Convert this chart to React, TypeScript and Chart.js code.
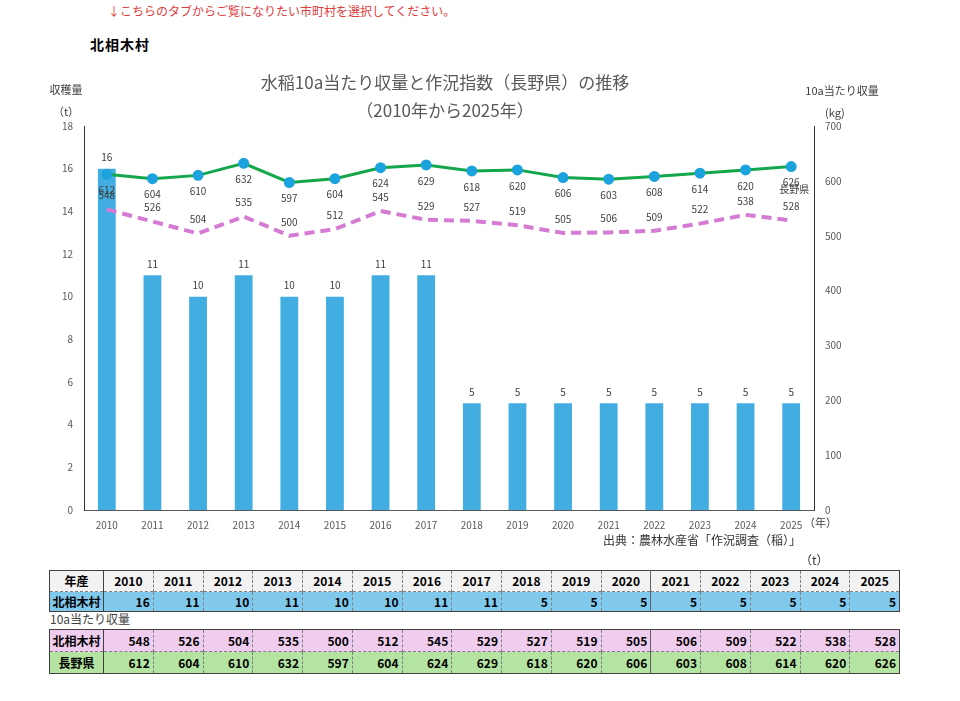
import React, { useEffect, useRef } from "react";
import { Chart, registerables } from "chart.js";

Chart.register(...registerables);

const years = ["2010","2011","2012","2013","2014","2015","2016","2017","2018","2019","2020","2021","2022","2023","2024","2025"];
const harvest = [16, 11, 10, 11, 10, 10, 11, 11, 5, 5, 5, 5, 5, 5, 5, 5];
const villageYield = [548, 526, 504, 535, 500, 512, 545, 529, 527, 519, 505, 506, 509, 522, 538, 528];
const naganoYield = [612, 604, 610, 632, 597, 604, 624, 629, 618, 620, 606, 603, 608, 614, 620, 626];
const villageName = "北相木村";
const prefName = "長野県";

const FONT = '"Noto Sans CJK JP", "Noto Sans", sans-serif';
const BAR = "#41ADE0";
const GREEN = "#14A64A";
const DOT = "#1CA3DE";
const PINK = "#D57BD3";

const labelPlugin = {
  id: "valueLabels",
  afterDatasetsDraw(chart: any) {
    const ctx = chart.ctx;
    ctx.save();
    ctx.font = `10px ${FONT}`;
    ctx.fillStyle = "#404040";
    ctx.textAlign = "center";
    ctx.textBaseline = "middle";
    chart.data.datasets.forEach((ds: any, i: number) => {
      const meta = chart.getDatasetMeta(i);
      meta.data.forEach((el: any, j: number) => {
        const v = ds.data[j];
        let dy = 0;
        if (ds.type === "bar") dy = -11;
        else if (ds.label === prefName) dy = 16;
        else dy = -14;
        ctx.fillText(String(v), el.x, el.y + dy);
        if (ds.label === prefName && j === ds.data.length - 1) {
          ctx.fillText(prefName, el.x + 3, el.y + 23);
        }
      });
    });
    ctx.restore();
  },
};

function ChartCanvas() {
  const ref = useRef<HTMLCanvasElement | null>(null);
  useEffect(() => {
    if (!ref.current) return;
    const chart = new Chart(ref.current, {
      data: {
        labels: years,
        datasets: [
          {
            type: "line",
            label: prefName,
            data: naganoYield,
            yAxisID: "y2",
            borderColor: GREEN,
            borderWidth: 3,
            pointRadius: 4,
            pointBackgroundColor: DOT,
            pointBorderColor: DOT,
            tension: 0,
            order: 1,
          },
          {
            type: "line",
            label: villageName,
            data: villageYield,
            yAxisID: "y2",
            borderColor: PINK,
            borderWidth: 4,
            borderDash: [10, 6],
            pointRadius: 0,
            tension: 0,
            order: 2,
          },
          {
            type: "bar",
            label: "収穫量",
            data: harvest,
            yAxisID: "y",
            backgroundColor: BAR,
            barPercentage: 0.39,
            categoryPercentage: 1,
            order: 3,
          },
        ] as any,
      },
      options: {
        responsive: false,
        animation: false,
        layout: { padding: { top: 126, left: 0, right: 0, bottom: 0 } },
        plugins: { legend: { display: false }, title: { display: false }, tooltip: { enabled: false } },
        scales: {
          x: {
            offset: true,
            grid: { display: false, drawTicks: false },
            border: { display: true, color: "#595959", width: 1 },
            ticks: { color: "#595959", font: { size: 10, family: FONT }, padding: 9, maxRotation: 0, autoSkip: false },
            afterFit: (s: any) => { s.height = 30; },
          },
          y: {
            position: "left",
            min: 0,
            max: 18,
            grid: { display: false, drawTicks: false },
            border: { display: true, color: "#333333", width: 1 },
            ticks: { stepSize: 2, color: "#595959", font: { size: 10, family: FONT }, padding: 11 },
            afterFit: (s: any) => { s.width = 84; },
          },
          y2: {
            position: "right",
            min: 0,
            max: 700,
            grid: { display: false, drawTicks: false },
            border: { display: true, color: "#333333", width: 1 },
            ticks: { stepSize: 100, color: "#595959", font: { size: 10, family: FONT }, padding: 11 },
            afterFit: (s: any) => { s.width = 146; },
          },
        },
      } as any,
      plugins: [labelPlugin],
    });
    return () => chart.destroy();
  }, []);
  return (
    <canvas
      ref={ref}
      width={960}
      height={540}
      style={{ position: "absolute", left: 0, top: 0, width: 960, height: 540 }}
    />
  );
}

const txt = (s: React.CSSProperties): React.CSSProperties => ({
  position: "absolute",
  fontFamily: FONT,
  whiteSpace: "nowrap",
  lineHeight: 1,
  ...s,
});

const colW = 49.75;
const firstW = 54;

function DataTable({ top, rows }: { top: number; rows: { name: string; values: (string | number)[]; bg: string; header?: boolean; h: number }[] }) {
  return (
    <table
      style={{
        position: "absolute",
        left: 49,
        top,
        width: firstW + colW * 16,
        borderCollapse: "collapse",
        tableLayout: "fixed",
        border: "1px solid #404040",
        fontFamily: FONT,
        fontSize: 12,
        fontWeight: 700,
        color: "#000",
      }}
    >
      <colgroup>
        <col style={{ width: firstW }} />
        {years.map((y) => (
          <col key={y} style={{ width: colW }} />
        ))}
      </colgroup>
      <tbody>
        {rows.map((r, ri) => (
          <tr key={ri} style={{ height: r.h, background: r.bg }}>
            <td
              style={{
                padding: 0,
                textAlign: "center",
                borderRight: "1px solid #404040",
                borderTop: ri > 0 ? "1px dashed #808080" : undefined,
                lineHeight: 1,
              }}
            >
              {r.name}
            </td>
            {r.values.map((v, i) => (
              <td
                key={i}
                style={{
                  padding: r.header ? 0 : "0 3px 0 0",
                  textAlign: r.header ? "center" : "right",
                  borderRight: i === 10 ? "1px solid #606060" : "1px dashed #808080",
                  borderTop: ri > 0 ? "1px dashed #808080" : undefined,
                  lineHeight: 1,
                }}
              >
                {v}
              </td>
            ))}
          </tr>
        ))}
      </tbody>
    </table>
  );
}

export default function App() {
  return (
    <div style={{ position: "absolute", left: 0, top: 0, width: 960, height: 701, background: "#fff", overflow: "hidden" }}>
      <div style={txt({ left: 108, top: 5, fontSize: 12, color: "#E03C3C" })}>↓こちらのタブからご覧になりたい市町村を選択してください。</div>
      <div style={txt({ left: 90, top: 37, fontSize: 14, fontWeight: 700, color: "#000", letterSpacing: 1 })}>{villageName}</div>
      <ChartCanvas />
      <div style={txt({ left: 445, top: 73, fontSize: 17, color: "#595959", transform: "translateX(-50%)" })}>水稲10a当たり収量と作況指数（長野県）の推移</div>
      <div style={txt({ left: 445, top: 101, fontSize: 17, color: "#595959", transform: "translateX(-50%)" })}>（2010年から2025年）</div>
      <div style={txt({ left: 66, top: 84, fontSize: 11, color: "#404040", transform: "translateX(-50%)" })}>収穫量</div>
      <div style={txt({ left: 66, top: 106, fontSize: 11, color: "#404040", transform: "translateX(-50%)" })}>（t）</div>
      <div style={txt({ left: 842, top: 85, fontSize: 11, color: "#404040", transform: "translateX(-50%)" })}>10a当たり収量</div>
      <div style={txt({ left: 825, top: 107, fontSize: 11, color: "#404040" })}>(kg)</div>
      <div style={txt({ left: 804, top: 517, fontSize: 11, color: "#404040" })}>（年）</div>
      <div style={txt({ left: 603, top: 534, fontSize: 12, color: "#333" })}>出典：農林水産省「作況調査（稲）」</div>
      <div style={txt({ left: 800, top: 554, fontSize: 12, color: "#333" })}>（t）</div>
      <DataTable
        top={570}
        rows={[
          { name: "年産", values: years, bg: "#F2F2F2", header: true, h: 21 },
          { name: villageName, values: harvest, bg: "#80C8EC", h: 20 },
        ]}
      />
      <div style={txt({ left: 50, top: 613, fontSize: 12, color: "#404040" })}>10a当たり収量</div>
      <DataTable
        top={629}
        rows={[
          { name: villageName, values: villageYield, bg: "#F0CDEE", h: 22 },
          { name: prefName, values: naganoYield, bg: "#B4E4A2", h: 22 },
        ]}
      />
    </div>
  );
}
